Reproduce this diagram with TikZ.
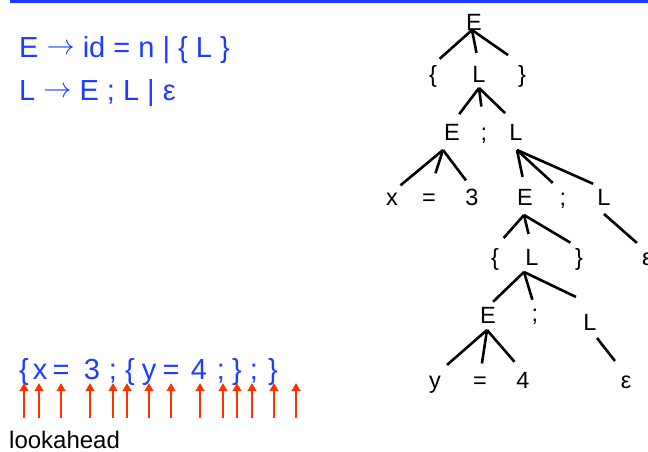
\documentclass[tikz,border=0pt]{standalone}
\usepackage{graphicx}
\usepackage{fontspec}
\setmainfont{Liberation Sans}
\usetikzlibrary{arrows.meta,calc}
\definecolor{gblue}{RGB}{30,60,255}
\definecolor{lred}{RGB}{255,51,0}
\newcommand{\garrow}{\raisebox{3pt}{\scalebox{1.13}{$\rightarrow$}}}
\begin{document}
\begin{tikzpicture}[x=1pt,y=-1pt,
  tn/.style={anchor=base,inner sep=0pt,font=\fontsize{23.5}{27}\selectfont},
  te/.style={line width=2.6pt,shorten >=#1},
  te/.default=12pt,
  tok/.style={anchor=base,inner sep=0pt,text=gblue,font=\fontsize{29}{34}\selectfont},
  gram/.style={anchor=base west,inner sep=0pt,text=gblue,font=\fontsize{29}{34}\selectfont},
  larrow/.style={draw=lred,line width=2.6pt,-{Triangle[width=8.5pt,length=8pt,fill=lred]}},
]
\useasboundingbox (0,0) rectangle (648,451);
\fill[gblue] (10,0) rectangle (648,3);

% grammar
\node[gram] (g1) at (19,57) {E \garrow{} id = n | \{ L \}};
\node[gram] (g2) at (19,100) {L \garrow{} E ; L | ε};

% tree nodes
\node[tn] (r)  at (474,30) {E};
\node[tn] (b1) at (433,82) {\{};
\node[tn] (l1) at (479,82) {L};
\node[tn] (c1) at (522,82) {\}};
\node[tn] (e2) at (452,140) {E};
\node[tn] (s1) at (484,140) {;};
\node[tn] (l2) at (516,140) {L};
\node[tn] (x1) at (392,205) {x};
\node[tn] (q1) at (429,205) {=};
\node[tn] (n3) at (472,205) {3};
\node[tn] (e3) at (525,205) {E};
\node[tn] (s2) at (563,205) {;};
\node[tn] (l3) at (604,205) {L};
\node[tn] (b2) at (495,265) {\{};
\node[tn] (l4) at (532,265) {L};
\node[tn] (c2) at (579,265) {\}};
\node[tn,anchor=base west] (p1) at (642,265) {ε};
\node[tn] (e4) at (488,323) {E};
\node[tn] (s3) at (535,321) {;};
\node[tn] (l5) at (590,330) {L};
\node[tn] (y1) at (435,388) {y};
\node[tn] (q2) at (480,388) {=};
\node[tn] (n4) at (523,388) {4};
\node[tn] (p2) at (626,388) {ε};

% apex points
\coordinate (rA)  at (472,30);
\coordinate (l1A) at (479,88);
\coordinate (e2A) at (443,150);
\coordinate (l2A) at (517,150);
\coordinate (e3A) at (524,215);
\coordinate (l3A) at (604,214);
\coordinate (l4A) at (524,272);
\coordinate (e4A) at (487,330);
\coordinate (l5A) at (597,338);

% tree edges
\draw[te=9pt]  (rA) -- (b1.north);
\draw[te=13pt] (rA) -- (l1.north);
\draw[te=17pt] (rA) -- (c1.north);
\draw[te=12pt] (l1A) -- (e2.north);
\draw[te=21pt] (l1A) -- (s1.north);
\draw[te=15pt] (l1A) -- (l2.north);
\draw[te=11pt] (e2A) -- (x1.north);
\draw[te=21pt] (e2A) -- (q1.north);
\draw[te=10pt] (e2A) -- (n3.north);
\draw[te=12pt] (l2A) -- (e3.north);
\draw[te=14pt] (l2A) -- (s2.north);
\draw[te=12pt] (l2A) -- (l3.north);
\draw[te=13pt] (e3A) -- (b2.north);
\draw[te=15pt] (e3A) -- (l4.north);
\draw[te=10pt] (e3A) -- (c2.north);
\draw[te=14pt] (l3A) -- (p1.north);
\draw[te=7pt]  (l4A) -- (e4.north);
\draw[te=9pt]  (l4A) -- (s3.north);
\draw[te=20pt] (l4A) -- ([xshift=4pt,yshift=8pt]l5.north);
\draw[te=16pt] (e4A) -- (y1.north);
\draw[te=13pt] (e4A) -- (q2.north);
\draw[te=13pt] (e4A) -- (n4.north);
\draw[te=18pt] (l5A) -- (p2.north);

% input string tokens
\node[tok] (t1)  at (24,379)  {\{};
\node[tok] (t2)  at (40,379)  {x};
\node[tok] (t3)  at (61,379)  {=};
\node[tok] (t4)  at (92,379)  {3};
\node[tok] (t5)  at (113,379) {;};
\node[tok] (t6)  at (130,379) {\{};
\node[tok] (t7)  at (149,379) {y};
\node[tok] (t8)  at (171,379) {=};
\node[tok] (t9)  at (199,379) {4};
\node[tok] (t10) at (221,379) {;};
\node[tok] (t11) at (237,379) {\}};
\node[tok] (t12) at (254,379) {;};
\node[tok] (t13) at (273,379) {\}};

% lookahead arrows
\foreach \x [count=\i] in {24,39,61,90,113,127,149,171,200,223,237,252,274,296} {
  \coordinate (ab\i) at (\x,418);
  \coordinate (at\i) at (\x,383);
  \draw[larrow] (ab\i) -- (at\i);
}
\node[anchor=base west,inner sep=0pt,font=\fontsize{24}{28}\selectfont] (la) at (9,448) {lookahead};
\end{tikzpicture}
\end{document}
